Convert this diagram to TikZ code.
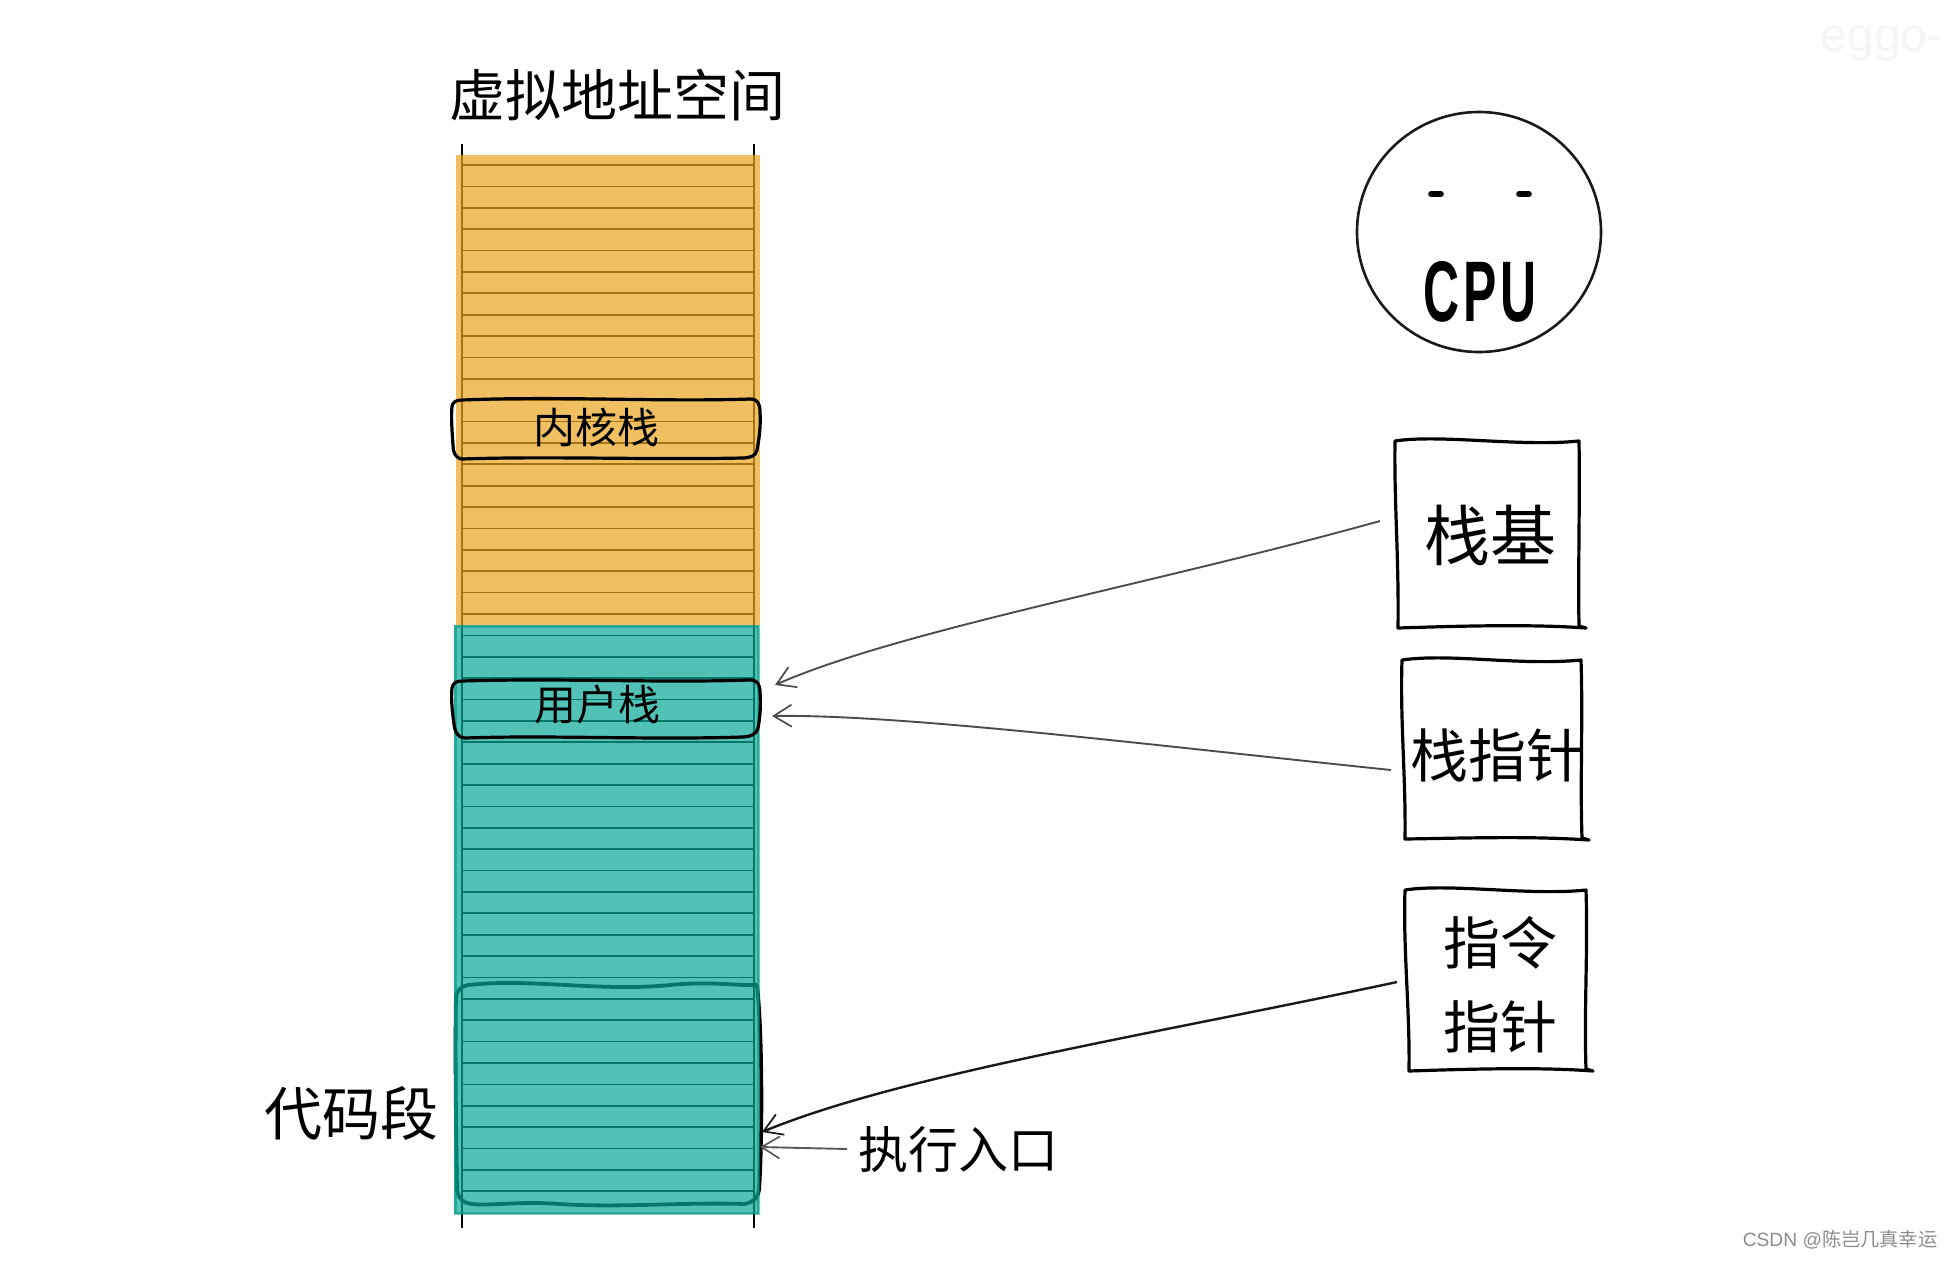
\documentclass[tikz,border=0pt]{standalone}
\usepackage{fontspec}
\usepackage{graphicx}
\setmainfont{Noto Sans CJK SC}
\newfontfamily\latinfont{Liberation Sans}
\usetikzlibrary{arrows.meta}
\definecolor{orangefill}{RGB}{234,165,32}
\definecolor{tealfill}{RGB}{9,169,152}
\definecolor{tealedge}{RGB}{5,150,130}
\tikzset{
  ink/.style={draw=black,line width=1.6pt,line join=round,line cap=round},
  rule/.style={draw=black,line width=0.85pt},
  wire/.style={draw=#1,line width=0.95pt,-{Straight Barb[length=9pt,width=11pt,line width=0.85pt]}},
  label/.style={inner sep=0pt,text=black}
}
\begin{document}
\begin{tikzpicture}[x=0.5pt,y=-0.5pt]
\useasboundingbox (0,0) rectangle (1950,1260);
\fill[white] (0,0) rectangle (1950,1260);
% ruled lines under the translucent fills
\foreach \k in {0,...,48}{\draw[rule] (462,165+21.38*\k) -- (754,165+21.38*\k);}
\draw[rule] (462,144) -- (462,1228);
\draw[rule] (754,144) -- (754,1228);
% code segment outline
\draw[draw=black,line width=1.9pt,line join=round]
  (468,985) .. controls (530,978) and (600,992) .. (670,985) .. controls (710,981) and (740,986) .. (757,985)
  .. controls (763,1040) and (762,1150) .. (759,1190)
  .. controls (757,1200) and (752,1202) .. (745,1204)
  .. controls (680,1202) and (620,1208) .. (560,1204)
  .. controls (520,1201) and (490,1206) .. (472,1204)
  .. controls (463,1203) and (458,1198) .. (457,1190)
  .. controls (456,1130) and (455,1050) .. (456,996)
  .. controls (457,990) and (462,986) .. (468,985) -- cycle;
% translucent fills
\fill[orangefill,fill opacity=0.7] (456,155) rectangle (760,625);
\fill[tealfill,fill opacity=0.7] (454,625) rectangle (759,1214);
\draw[tealedge,line width=1.5pt,draw opacity=0.55] (455,626) rectangle (758,1213);
% kernel stack
\draw[ink]
  (462,400) .. controls (560,396) and (660,402) .. (750,399)
  .. controls (758,399) and (760,404) .. (760,412)
  .. controls (761,425) and (759,440) .. (757,450)
  .. controls (756,456) and (750,458) .. (742,458)
  .. controls (650,460) and (550,456) .. (462,459)
  .. controls (455,458) and (453,452) .. (453,445)
  .. controls (452,430) and (451,418) .. (452,406)
  .. controls (453,402) and (456,400) .. (462,400) -- cycle;
\node[label,font=\fontsize{21}{21}\selectfont] (kstack) at (596,427) {内核栈};
% user stack
\draw[ink]
  (462,681) .. controls (560,678) and (660,683) .. (750,680)
  .. controls (757,680) and (760,684) .. (760,692)
  .. controls (761,705) and (760,718) .. (758,728)
  .. controls (757,734) and (750,737) .. (742,737)
  .. controls (650,740) and (550,735) .. (465,738)
  .. controls (457,737) and (455,732) .. (454,724)
  .. controls (452,710) and (451,698) .. (452,688)
  .. controls (453,683) and (456,681) .. (462,681) -- cycle;
\node[label,font=\fontsize{21}{21}\selectfont] (ustack) at (597,705) {用户栈};
% titles
\node[label,font=\fontsize{28}{28}\selectfont] (title) at (617,95) {虚拟地址空间};
\node[label,font=\fontsize{29}{29}\selectfont] (code) at (351,1113) {代码段};
\node[label,font=\fontsize{25}{25}\selectfont] (entry) at (958,1150) {执行入口};
% CPU
\draw[draw=black!90,line width=1.3pt] (1479,232) ellipse [x radius=122,y radius=120];
\draw[black,line width=2.8pt,line cap=round] (1431,194) -- (1441,194);
\draw[black,line width=2.8pt,line cap=round] (1519,194) -- (1529,194);
\node[label,font=\latinfont\bfseries\fontsize{43}{43}\selectfont] (cpu) at (1480,292) {\scalebox{0.58}[1]{C\kern3pt P\kern3pt U}};
% registers
\draw[ink]
  (1395,441) .. controls (1440,434) and (1520,447) .. (1579,441)
  .. controls (1580,500) and (1578,570) .. (1579,626) -- (1586,628)
  .. controls (1530,624) and (1460,626) .. (1398,628)
  .. controls (1399,560) and (1394,500) .. (1395,441) -- cycle;
\node[label,font=\fontsize{33}{33}\selectfont] (base) at (1490,535) {栈基};
\draw[ink]
  (1402,660) .. controls (1450,653) and (1520,666) .. (1581,660)
  .. controls (1583,720) and (1580,780) .. (1582,838) -- (1589,840)
  .. controls (1530,836) and (1470,838) .. (1405,839)
  .. controls (1406,780) and (1400,720) .. (1402,660) -- cycle;
\node[label,font=\fontsize{29}{29}\selectfont] (sp) at (1497,755) {栈指针};
\draw[ink]
  (1405,890) .. controls (1450,883) and (1530,896) .. (1586,890)
  .. controls (1588,950) and (1584,1010) .. (1586,1069) -- (1593,1071)
  .. controls (1540,1067) and (1470,1069) .. (1409,1071)
  .. controls (1410,1010) and (1403,950) .. (1405,890) -- cycle;
\node[label,align=center,font=\fontsize{28.5}{42}\selectfont] (ip) at (1500,985) {指令\\指针};
% connector ends
\coordinate (baseTail) at (1380,521);
\coordinate (baseHead) at (775,685);
\coordinate (spTail) at (1391,770);
\coordinate (spHead) at (772,716);
\coordinate (ipTail) at (1397,982);
\coordinate (ipHead) at (762,1132);
\coordinate (entryTail) at (847,1149);
\coordinate (entryHead) at (760,1147);
\draw[wire=black!70] (baseTail) .. controls (1150,585) and (900,630) .. (baseHead);
\draw[wire=black!70] (spTail) .. controls (1150,745) and (900,714) .. (spHead);
\draw[wire=black!90,line width=1.2pt] (ipTail) .. controls (1150,1035) and (900,1075) .. (ipHead);
\draw[wire=black!65] (entryTail) -- (entryHead);
% marks
\node[label,text=black!4,font=\latinfont\fontsize{24}{24}\selectfont] (mark) at (1882,44) {eggo-};
\node[label,text=black!45,font=\fontsize{9.6}{10}\selectfont] (credit) at (1840,1240) {{\latinfont CSDN @}陈岂几真幸运};
\end{tikzpicture}
\end{document}
